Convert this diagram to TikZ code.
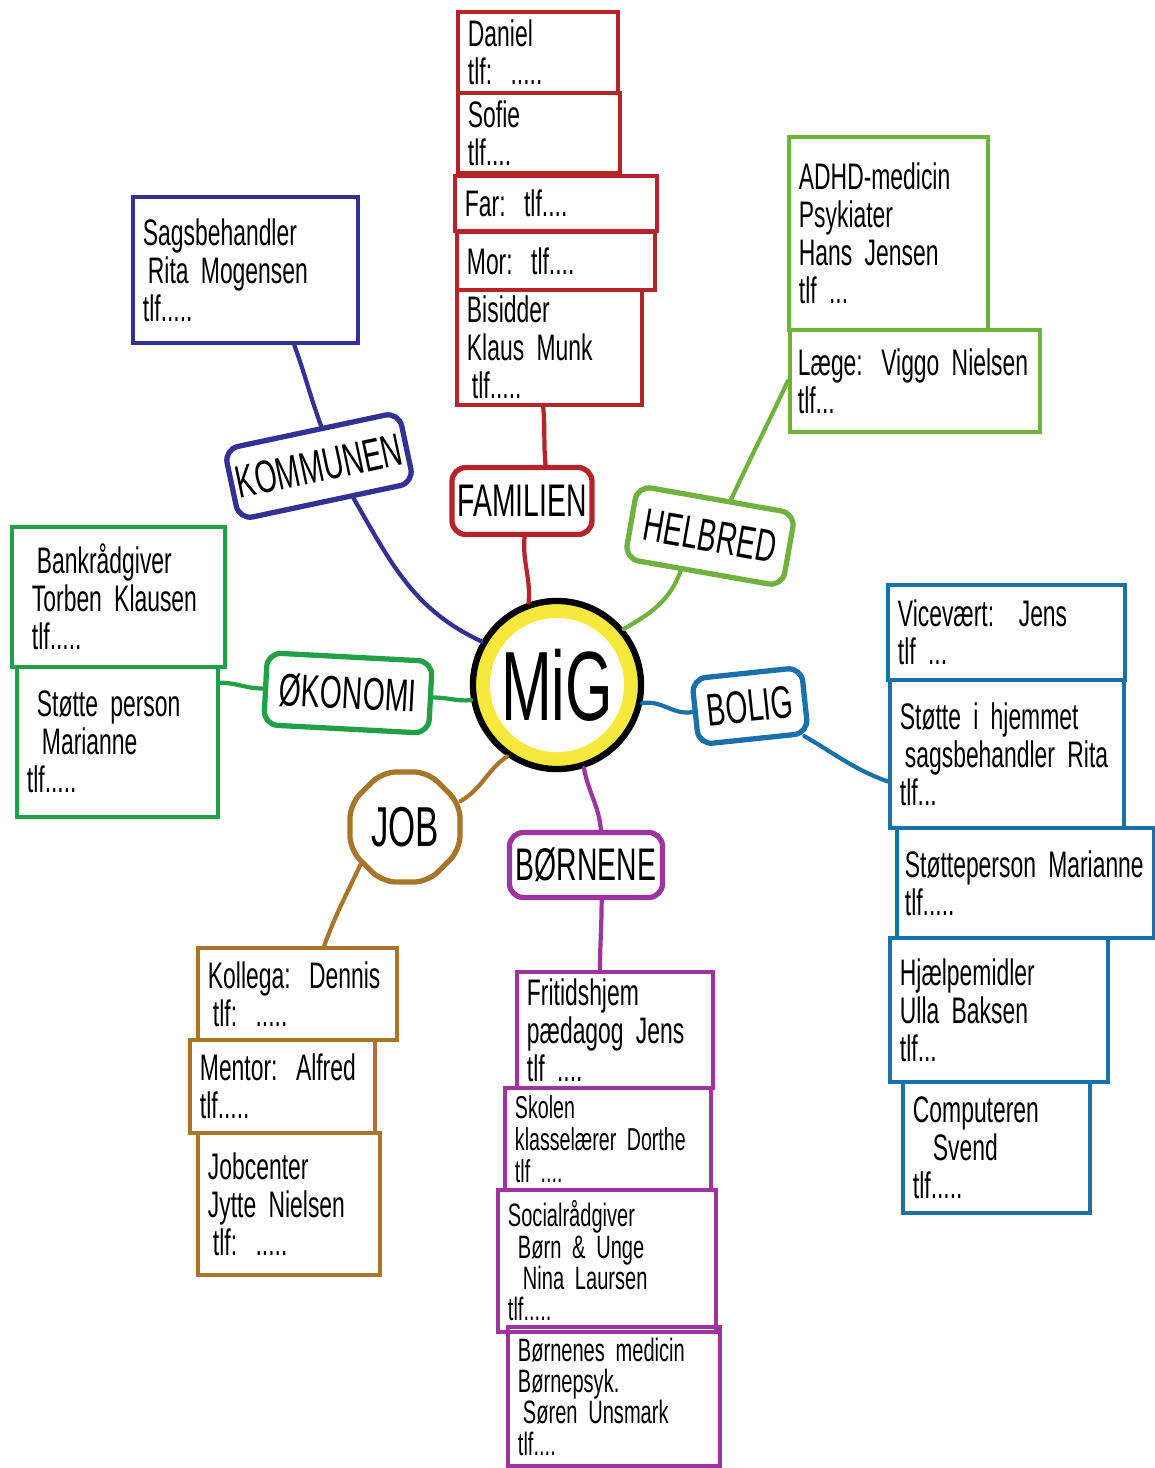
\documentclass[tikz,border=0pt]{standalone}
\usepackage{fontspec}
\setmainfont{Liberation Sans}[FakeStretch=0.62, WordSpace=0.7]
\usetikzlibrary{shapes.geometric}

\definecolor{famred}{RGB}{180,36,40}
\definecolor{komblue}{RGB}{52,48,148}
\definecolor{helgreen}{RGB}{112,178,62}
\definecolor{okogreen}{RGB}{34,160,72}
\definecolor{bolblue}{RGB}{28,112,170}
\definecolor{jobbrown}{RGB}{168,118,42}
\definecolor{bornpurple}{RGB}{158,52,160}
\definecolor{migyellow}{RGB}{246,232,60}

\tikzset{
	card/.style={shape=rectangle, draw=#1, line width=1.2pt, anchor=center, align=left, inner xsep=0.1cm, inner ysep=0.02cm, font=\fontsize{10.5}{10.8}\selectfont},
	topic/.style={shape=rectangle, draw=#1, line width=1.5pt, rounded corners=0.14cm, fill=white, inner sep=0.05cm, font=\fontsize{13}{13}\selectfont},
	wire/.style={draw=#1, line width=1.2pt, line cap=round},
	tight/.style={font=\fontsize{9.2}{8.9}\selectfont},
}

\begin{document}
\begin{tikzpicture}[x=0.01cm, y=-0.01cm]
	\useasboundingbox (0,0) rectangle (1155,1468);
	% Centre:
	\node[circle, draw=black, fill=migyellow, line width=1.8pt, minimum size=1.68cm] (mig) at (557, 685){};
	\node[circle, fill=white, inner sep=0pt, minimum size=1.34cm, font=\fontsize{28}{28}\selectfont] (migtext) at (557, 685){MiG};
	% Topics:
	\node[topic=famred, minimum width=1.40cm, minimum height=0.67cm] (familien) at (522, 501){FAMILIEN};
	\node[topic=komblue, minimum width=1.78cm, minimum height=0.72cm, rotate=12] (kommunen) at (319, 466){KOMMUNEN};
	\node[topic=helgreen, minimum width=1.60cm, minimum height=0.74cm, rotate=-10] (helbred) at (710, 536){HELBRED};
	\node[topic=okogreen, minimum width=1.65cm, minimum height=0.72cm, rotate=-3] (okonomi) at (348, 693){ØKONOMI};
	\node[topic=bolblue, minimum width=1.10cm, minimum height=0.66cm, rotate=6] (bolig) at (750, 706){BOLIG};
	\node[topic=jobbrown, regular polygon, regular polygon sides=8, minimum size=1.02cm, font=\fontsize{16}{16}\selectfont] (job) at (405, 827){JOB};
	\node[topic=bornpurple, minimum width=1.53cm, minimum height=0.65cm] (bornene) at (586, 865){BØRNENE};
	% Familien:
	\node[card=famred, text width=1.40cm, minimum height=0.81cm] (daniel) at (538, 52.5){Daniel\\tlf: .....};
	\node[card=famred, text width=1.42cm, minimum height=0.80cm] (sofie) at (539, 133){Sofie\\tlf....};
	\node[card=famred, text width=1.82cm, minimum height=0.55cm] (far) at (556, 203.5){Far: tlf....};
	\node[card=famred, text width=1.78cm, minimum height=0.58cm] (mor) at (556, 261){Mor: tlf....};
	\node[card=famred, text width=1.65cm, minimum height=1.15cm] (bisidder) at (549.5, 347.5){Bisidder\\Klaus Munk\\\hspace*{0.05cm}tlf.....};
	% Kommunen:
	\node[card=komblue, text width=2.05cm, minimum height=1.46cm] (sagsbeh) at (245.5, 270){Sagsbehandler\\\hspace*{0.05cm}Rita Mogensen\\tlf.....};
	% Helbred:
	\node[card=helgreen, text width=1.79cm, minimum height=1.93cm] (adhd) at (888.5, 233.5){ADHD-medicin\\Psykiater\\Hans Jensen\\tlf ...};
	\node[card=helgreen, text width=2.34cm, minimum height=1.02cm, inner xsep=0.08cm] (laege) at (915, 381){Læge: Viggo Nielsen\\tlf...};
	% Okonomi:
	\node[card=okogreen, text width=1.93cm, minimum height=1.40cm] (bank) at (118.5, 597){\hspace*{0.15cm}Bankrådgiver\\\hspace*{0.1cm}Torben Klausen\\\hspace*{0.1cm}tlf.....};
	\node[card=okogreen, text width=1.81cm, minimum height=1.50cm] (stotteper) at (117.5, 742){\hspace*{0.1cm}Støtte person\\\hspace*{0.15cm}Marianne\\tlf.....};
	% Bolig:
	\node[card=bolblue, text width=2.17cm, minimum height=0.95cm] (vicevaert) at (1006.5, 632.5){Vicevært:\ \ Jens\\tlf ...};
	\node[card=bolblue, text width=2.14cm, minimum height=1.48cm] (stottehj) at (1007, 754){Støtte i hjemmet\\\hspace*{0.05cm}sagsbehandler Rita\\tlf...};
	\node[card=bolblue, text width=2.41cm, minimum height=1.10cm, inner xsep=0.08cm] (stottemar) at (1025.5, 883){Støtteperson Marianne\\tlf.....};
	\node[card=bolblue, text width=1.98cm, minimum height=1.44cm] (hjaelp) at (999, 1010){Hjælpemidler\\Ulla Baksen\\tlf...};
	\node[card=bolblue, text width=1.67cm, minimum height=1.31cm] (computer) at (996.5, 1147.5){Computeren\\\hspace*{0.2cm}Svend\\tlf.....};
	% Job:
	\node[card=jobbrown, text width=1.79cm, minimum height=0.92cm] (kollega) at (297.5, 994){Kollega: Dennis\\\hspace*{0.05cm}tlf: .....};
	\node[card=jobbrown, text width=1.65cm, minimum height=0.93cm] (mentor) at (282.5, 1086.5){Mentor: Alfred\\tlf.....};
	\node[card=jobbrown, text width=1.62cm, minimum height=1.42cm] (jobcenter) at (289, 1204){Jobcenter\\Jytte Nielsen\\\hspace*{0.05cm}tlf: .....};
	% Bornene:
	\node[card=bornpurple, text width=1.76cm, minimum height=1.16cm] (fritid) at (615, 1030){Fritidshjem\\pædagog Jens\\tlf ....};
	\node[card=bornpurple, text width=1.86cm, minimum height=1.02cm, font=\fontsize{9}{9}\selectfont] (skolen) at (608, 1139){Skolen\\klasselærer Dorthe\\tlf ....};
	\node[card=bornpurple, tight, text width=1.98cm, minimum height=1.42cm] (social) at (607, 1261){Socialrådgiver\\\hspace*{0.1cm}Børn \& Unge\\\hspace*{0.15cm}Nina Laursen\\tlf.....};
	\node[card=bornpurple, tight, text width=1.92cm, minimum height=1.39cm] (medicin) at (614, 1396.5){Børnenes medicin\\Børnepsyk.\\\hspace*{0.05cm}Søren Unsmark\\tlf....};
	% Wires:
	\draw[wire=famred] (bisidder.-96) to[out=-85, in=95] (familien.57);
	\draw[wire=famred] (familien.-86) to[out=-95, in=85] (mig.109);
	\draw[wire=komblue] (sagsbeh.-57) to[out=-70, in=110] (kommunen.75);
	\draw[wire=komblue] (kommunen.-55) to[out=-60, in=155] (mig.150);
	\draw[wire=helgreen] (laege.west) to[out=-115, in=65] (helbred.70);
	\draw[wire=helgreen] (helbred.-120) to[out=-110, in=30] (mig.40);
	\draw[wire=okogreen] (okonomi.east) to[out=0, in=185] (mig.190);
	\draw[wire=okogreen] (okonomi.west) to[out=180, in=0] (stotteper.30);
	\draw[wire=bolblue] (mig.-12) to[out=10, in=190] (bolig.west);
	\draw[wire=bolblue] (bolig.-35) to[out=-30, in=160] (stottehj.193);
	\draw[wire=jobbrown] (mig.235) to[out=215, in=30] (job.25);
	\draw[wire=jobbrown] (job.220) to[out=-115, in=70] (kollega.61);
	\draw[wire=bornpurple] (mig.-72) to[out=-80, in=95] (bornene.67);
	\draw[wire=bornpurple] (bornene.-66) to[out=-90, in=90] (fritid.104);
\end{tikzpicture}
\end{document}
